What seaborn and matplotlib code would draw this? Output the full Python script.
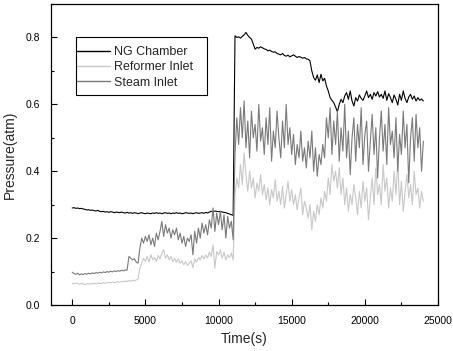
import numpy as np
import pandas as pd
import matplotlib
matplotlib.use("Agg")
import matplotlib.pyplot as plt
import seaborn as sns
from matplotlib.ticker import MultipleLocator
from matplotlib.patches import Rectangle

# Time axis (s), sampled every 125 s
time_s = np.arange(0, 24001, 125)

ng_chamber = [
    0.290, 0.291, 0.289, 0.290, 0.288, 0.289, 0.287, 0.286, 0.284,
    0.285, 0.283, 0.284, 0.282, 0.281, 0.283, 0.280, 0.279,
    0.280, 0.278, 0.279, 0.277, 0.279, 0.278, 0.276, 0.278,
    0.277, 0.276, 0.278, 0.276, 0.275, 0.277, 0.275, 0.276,
    0.274, 0.276, 0.275, 0.273, 0.275, 0.276, 0.274, 0.273,
    0.275, 0.274, 0.273, 0.275, 0.274, 0.276, 0.274, 0.275,
    0.273, 0.275, 0.276, 0.274, 0.275, 0.273, 0.275, 0.274,
    0.276, 0.274, 0.275, 0.273, 0.274, 0.276, 0.275, 0.274,
    0.275, 0.273, 0.275, 0.276, 0.274, 0.275, 0.276, 0.274,
    0.277, 0.275, 0.278, 0.280, 0.279, 0.281, 0.280, 0.279,
    0.280, 0.278, 0.277, 0.276, 0.274, 0.272, 0.270, 0.268,
    0.805, 0.800, 0.802, 0.798, 0.803, 0.808, 0.815, 0.806,
    0.800, 0.795, 0.780, 0.765, 0.770, 0.768, 0.772, 0.769,
    0.766, 0.764, 0.760, 0.762, 0.758, 0.756, 0.757, 0.752,
    0.750, 0.748, 0.752, 0.746, 0.744, 0.747, 0.742, 0.745,
    0.748, 0.744, 0.740, 0.743, 0.741, 0.738, 0.740, 0.736,
    0.735, 0.730, 0.700, 0.680, 0.672, 0.688, 0.665, 0.690,
    0.670, 0.678, 0.655, 0.640, 0.620, 0.612, 0.605, 0.592,
    0.578, 0.600, 0.615, 0.605, 0.625, 0.635, 0.615, 0.640,
    0.610, 0.595, 0.620, 0.610, 0.628, 0.618, 0.612, 0.625,
    0.640, 0.620, 0.630, 0.615, 0.635, 0.625, 0.638, 0.622,
    0.630, 0.618, 0.640, 0.612, 0.632, 0.620, 0.605, 0.628,
    0.615, 0.598, 0.630, 0.612, 0.640, 0.618, 0.605, 0.622,
    0.630, 0.615, 0.625, 0.610, 0.620, 0.612, 0.616, 0.610,
]

reformer_inlet = [
    0.065, 0.063, 0.066, 0.064, 0.062, 0.065, 0.063, 0.061, 0.064,
    0.062, 0.064, 0.063, 0.065, 0.063, 0.066, 0.064, 0.065,
    0.067, 0.065, 0.066, 0.068, 0.066, 0.069, 0.067, 0.068,
    0.070, 0.068, 0.071, 0.069, 0.072, 0.070, 0.073, 0.071,
    0.074, 0.072, 0.075, 0.078, 0.110, 0.125, 0.140, 0.130,
    0.145, 0.128, 0.150, 0.135, 0.142, 0.130, 0.148, 0.138,
    0.155, 0.165, 0.140, 0.150, 0.135, 0.145, 0.130, 0.140,
    0.128, 0.138, 0.125, 0.132, 0.120, 0.130, 0.118, 0.125,
    0.132, 0.112, 0.138, 0.128, 0.142, 0.135, 0.148, 0.138,
    0.150, 0.140, 0.158, 0.145, 0.180, 0.110, 0.160, 0.150,
    0.165, 0.140, 0.158, 0.135, 0.150, 0.142, 0.155, 0.135,
    0.330, 0.380, 0.350, 0.420, 0.360, 0.455, 0.390, 0.340,
    0.400, 0.350, 0.380, 0.320, 0.365, 0.340, 0.390, 0.330,
    0.360, 0.315, 0.350, 0.300, 0.345, 0.320, 0.375, 0.310,
    0.340, 0.300, 0.355, 0.290, 0.330, 0.370, 0.310, 0.345,
    0.300, 0.330, 0.285, 0.320, 0.350, 0.270, 0.310, 0.290,
    0.260, 0.300, 0.225, 0.280, 0.250, 0.300, 0.270, 0.320,
    0.290, 0.340, 0.310, 0.380, 0.330, 0.420, 0.370, 0.400,
    0.350, 0.410, 0.330, 0.380, 0.300, 0.350, 0.280, 0.330,
    0.300, 0.360, 0.320, 0.270, 0.340, 0.290, 0.370, 0.310,
    0.350, 0.255, 0.320, 0.380, 0.300, 0.410, 0.330, 0.360,
    0.300, 0.420, 0.340, 0.380, 0.290, 0.350, 0.310, 0.400,
    0.330, 0.430, 0.300, 0.370, 0.280, 0.340, 0.390, 0.320,
    0.360, 0.300, 0.400, 0.330, 0.350, 0.290, 0.340, 0.310,
]

steam_inlet = [
    0.098, 0.094, 0.092, 0.095, 0.090, 0.093, 0.091, 0.094, 0.092,
    0.095, 0.093, 0.096, 0.094, 0.097, 0.095, 0.098, 0.096,
    0.099, 0.097, 0.100, 0.098, 0.101, 0.099, 0.102, 0.100,
    0.103, 0.101, 0.104, 0.102, 0.105, 0.104, 0.145, 0.140,
    0.135, 0.138, 0.128, 0.125, 0.170, 0.200, 0.185, 0.205,
    0.190, 0.210, 0.180, 0.200, 0.175, 0.215, 0.195, 0.220,
    0.250, 0.205, 0.240, 0.215, 0.230, 0.200, 0.225, 0.210,
    0.230, 0.195, 0.215, 0.185, 0.205, 0.175, 0.200, 0.190,
    0.210, 0.150, 0.220, 0.185, 0.230, 0.200, 0.245, 0.215,
    0.240, 0.210, 0.255, 0.230, 0.290, 0.220, 0.275, 0.240,
    0.280, 0.225, 0.270, 0.200, 0.265, 0.230, 0.250, 0.195,
    0.450, 0.560, 0.480, 0.590, 0.500, 0.610, 0.470, 0.550,
    0.440, 0.580, 0.500, 0.540, 0.460, 0.600, 0.490, 0.530,
    0.450, 0.560, 0.480, 0.590, 0.430, 0.520, 0.470, 0.580,
    0.500, 0.440, 0.550, 0.470, 0.600, 0.480, 0.530, 0.450,
    0.510, 0.420, 0.480, 0.440, 0.520, 0.430, 0.470, 0.410,
    0.490, 0.440, 0.520, 0.400, 0.470, 0.385, 0.450, 0.420,
    0.480, 0.440, 0.560, 0.500, 0.590, 0.450, 0.550, 0.480,
    0.580, 0.430, 0.530, 0.460, 0.600, 0.440, 0.520, 0.390,
    0.500, 0.560, 0.430, 0.540, 0.470, 0.590, 0.420, 0.510,
    0.550, 0.400, 0.490, 0.570, 0.450, 0.530, 0.380, 0.500,
    0.580, 0.460, 0.540, 0.420, 0.590, 0.480, 0.520, 0.440,
    0.560, 0.400, 0.510, 0.450, 0.580, 0.470, 0.540, 0.365,
    0.500, 0.560, 0.430, 0.570, 0.470, 0.530, 0.400, 0.490,
]

series_names = ["NG Chamber", "Reformer Inlet", "Steam Inlet"]
series_colors = ["#000000", "#c8c8c8", "#7a7a7a"]

df = pd.concat([
    pd.DataFrame({"Time(s)": time_s, "Pressure(atm)": vals, "Series": name})
    for name, vals in zip(series_names, [ng_chamber, reformer_inlet, steam_inlet])
], ignore_index=True)

sns.set_style("ticks")
plt.rcParams["font.family"] = ["Liberation Sans", "DejaVu Sans"]

W, H = 453, 351
AX_L, AX_R, AX_T, AX_B = 51, 438, 4, 305
fig = plt.figure(figsize=(W / 100, H / 100), dpi=100)
ax = fig.add_axes([AX_L / W, 1 - AX_B / H, (AX_R - AX_L) / W, (AX_B - AX_T) / H])

sns.lineplot(data=df, x="Time(s)", y="Pressure(atm)", hue="Series",
             hue_order=series_names,
             palette=dict(zip(series_names, series_colors)),
             estimator=None, sort=False, linewidth=0.8, ax=ax)

ax.set_xlim(-1450, 25000)
ax.set_ylim(0.0, 0.9)
ax.xaxis.set_major_locator(MultipleLocator(5000))
ax.xaxis.set_minor_locator(MultipleLocator(2500))
ax.yaxis.set_major_locator(MultipleLocator(0.2))
ax.yaxis.set_minor_locator(MultipleLocator(0.1))
ax.yaxis.set_major_formatter(matplotlib.ticker.FormatStrFormatter("%.1f"))
ax.tick_params(which="both", direction="in", top=False, right=False,
               labelsize=7.5, colors="black", width=0.8)
ax.tick_params(which="major", length=4, pad=8)
ax.tick_params(which="minor", length=2.5)
for sp in ax.spines.values():
    sp.set_visible(True)
    sp.set_color("black")
    sp.set_linewidth(0.9)

ax.set_xlabel("Time(s)", fontsize=10, labelpad=4)
ax.set_ylabel("Pressure(atm)", fontsize=10, labelpad=6)


def px_to_axes(px, py):
    return ((px - AX_L) / (AX_R - AX_L), (AX_B - py) / (AX_B - AX_T))


lx, ly = px_to_axes(77, 46)
leg = ax.legend(loc="upper left", bbox_to_anchor=(lx, ly),
                borderaxespad=0, frameon=False, fontsize=9,
                handlelength=2.6, handletextpad=0.4, borderpad=0,
                labelspacing=0.26, title=None)
for line in leg.get_lines():
    line.set_linewidth(1.0)

fx0, fy1 = px_to_axes(76, 37)
fx1, fy0 = px_to_axes(207, 95)
ax.add_patch(Rectangle((fx0, fy0), fx1 - fx0, fy1 - fy0, transform=ax.transAxes,
                       fill=True, facecolor="white", edgecolor="black",
                       linewidth=0.8, zorder=4.9))
leg.set_zorder(5)

fig.savefig("out.png", dpi=100)
